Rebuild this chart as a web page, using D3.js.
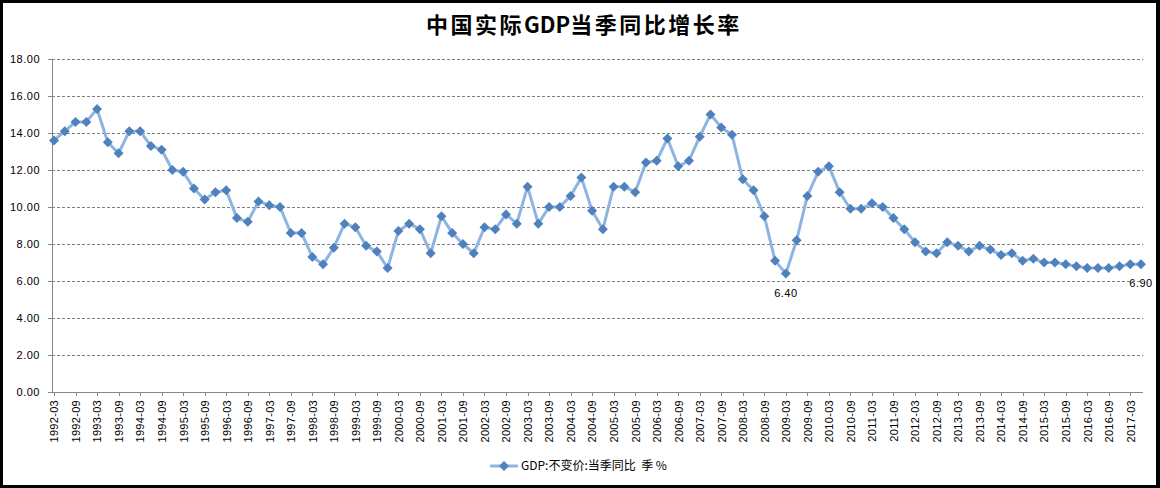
<!DOCTYPE html>
<html>
<head>
<meta charset="utf-8">
<script src="https://cdn.jsdelivr.net/npm/d3@7"></script>
<style>
  body { margin: 0; background: #fff; }
  svg { display: block; }
</style>
</head>
<body>
<svg id="chart"></svg>
<script>
const years = d3.range(1992, 2018);
const quarterMonths = ["03", "06", "09", "12"];

// 当季同比 %, 1992-03 .. 2017-06
const gdpYoY = [
  13.6, 14.1, 14.6, 14.6,
  15.3, 13.5, 12.9, 14.1,
  14.1, 13.3, 13.1, 12.0,
  11.9, 11.0, 10.4, 10.8,
  10.9, 9.4, 9.2, 10.3,
  10.1, 10.0, 8.6, 8.6,
  7.3, 6.9, 7.8, 9.1,
  8.9, 7.9, 7.6, 6.7,
  8.7, 9.1, 8.8, 7.5,
  9.5, 8.6, 8.0, 7.5,
  8.9, 8.8, 9.6, 9.1,
  11.1, 9.1, 10.0, 10.0,
  10.6, 11.6, 9.8, 8.8,
  11.1, 11.1, 10.8, 12.4,
  12.5, 13.7, 12.2, 12.5,
  13.8, 15.0, 14.3, 13.9,
  11.5, 10.9, 9.5, 7.1,
  6.4, 8.2, 10.6, 11.9,
  12.2, 10.8, 9.9, 9.9,
  10.2, 10.0, 9.4, 8.8,
  8.1, 7.6, 7.5, 8.1,
  7.9, 7.6, 7.9, 7.7,
  7.4, 7.5, 7.1, 7.2,
  7.0, 7.0, 6.9, 6.8,
  6.7, 6.7, 6.7, 6.8,
  6.9, 6.9
];

const quarters = years.flatMap(y => quarterMonths.map(m => `${y}-${m}`)).slice(0, gdpYoY.length);
const yTicks = [0, 2, 4, 6, 8, 10, 12, 14, 16, 18];
const labelled = ["2009-03", "2017-06"];

const titleParts = ["中国实际", "GDP", "当季同比增长率"];
const seriesName = "GDP:不变价:当季同比  季 %";

const width = 1160, height = 488;
const plot = { left: 52, right: 1143, top: 59, bottom: 392 };

const svg = d3.select("#chart").attr("width", width).attr("height", height);

// frame
svg.append("rect").attr("width", width).attr("height", height).attr("fill", "#000");
svg.append("rect").attr("x", 3).attr("y", 3).attr("width", 1153).attr("height", 482).attr("fill", "#fff");

const x = d3.scalePoint().domain(quarters).range([54, 1141]);
const y = d3.scaleLinear().domain([0, 18]).range([plot.bottom, plot.top]);

// title
const title = svg.append("text")
  .attr("x", 426).attr("y", 33)
  .style("font-family", "'Noto Sans CJK SC', sans-serif")
  .style("font-weight", "bold")
  .style("font-size", "22px")
  .attr("fill", "#000");
title.selectAll("tspan")
  .data(titleParts)
  .join("tspan")
  .style("letter-spacing", (d, i) => i === 1 ? "0px" : "2.5px")
  .text(d => d);

// gridlines
svg.append("g")
  .selectAll("line")
  .data(yTicks.filter(d => d > 0))
  .join("line")
  .attr("x1", plot.left).attr("x2", plot.right)
  .attr("y1", d => y(d)).attr("y2", d => y(d))
  .attr("stroke", "#808080")
  .attr("stroke-dasharray", "3,2")
  .attr("shape-rendering", "crispEdges");

// y axis
const yAxis = d3.axisLeft(y).tickValues(yTicks).tickFormat(d3.format(".2f")).tickSize(4).tickPadding(8);
const gy = svg.append("g")
  .attr("transform", `translate(${plot.left},0)`)
  .call(yAxis);
gy.select(".domain").attr("stroke", "#868686").attr("shape-rendering", "crispEdges");
gy.selectAll(".tick line").attr("stroke", "#868686").attr("shape-rendering", "crispEdges");
gy.selectAll("text")
  .style("font-family", "'Liberation Sans', Arial, sans-serif")
  .style("font-size", "11px")
  .style("letter-spacing", "0.5px")
  .attr("fill", "#000");

// x axis
const xAxis = d3.axisBottom(x)
  .tickValues(quarters.filter(q => q.endsWith("-03") || q.endsWith("-09")))
  .tickSize(4).tickSizeOuter(0);
const gx = svg.append("g")
  .attr("transform", `translate(0,${plot.bottom})`)
  .call(xAxis);
gx.select(".domain").attr("d", `M${plot.left},0.5H${plot.right}`).attr("stroke", "#868686");
gx.selectAll(".tick line").attr("stroke", "#868686").attr("shape-rendering", "crispEdges");
gx.selectAll("text")
  .attr("transform", "rotate(-90)")
  .attr("x", -8).attr("y", 0).attr("dy", "0.35em")
  .attr("text-anchor", "end")
  .style("font-family", "'Liberation Sans', Arial, sans-serif")
  .style("font-size", "11px")
  .style("letter-spacing", "0.3px")
  .attr("fill", "#000");

// line
const line = d3.line()
  .x((d, i) => x(quarters[i]))
  .y(d => y(d));

svg.append("path")
  .datum(gdpYoY)
  .attr("d", line)
  .attr("fill", "none")
  .attr("stroke", "#8DB4E2")
  .attr("stroke-width", 3)
  .attr("stroke-linejoin", "round");

const diamond = "M0,-5L5,0L0,5L-5,0Z";
svg.append("g")
  .selectAll("path")
  .data(gdpYoY)
  .join("path")
  .attr("transform", (d, i) => `translate(${x(quarters[i])},${y(d)})`)
  .attr("d", diamond)
  .attr("fill", "#4F81BD");

// data labels
svg.append("g")
  .selectAll("text")
  .data(labelled)
  .join("text")
  .attr("x", q => x(q))
  .attr("y", q => y(gdpYoY[quarters.indexOf(q)]) + 23)
  .attr("text-anchor", "middle")
  .style("font-family", "'Liberation Sans', Arial, sans-serif")
  .style("font-size", "11px")
  .style("letter-spacing", "0.5px")
  .attr("fill", "#000")
  .text(q => gdpYoY[quarters.indexOf(q)].toFixed(2));

// legend
const lg = svg.append("g").attr("transform", "translate(490,466)");
lg.append("line").attr("x1", 0).attr("x2", 28).attr("stroke", "#8DB4E2").attr("stroke-width", 3);
lg.append("path").attr("d", diamond).attr("transform", "translate(14,0)").attr("fill", "#4F81BD");
lg.append("text")
  .attr("x", 31).attr("y", 0).attr("dy", "0.35em")
  .style("font-family", "'Noto Sans CJK SC', sans-serif")
  .style("font-size", "12px")
  .style("white-space", "pre")
  .attr("fill", "#000")
  .text(seriesName);
</script>
</body>
</html>
